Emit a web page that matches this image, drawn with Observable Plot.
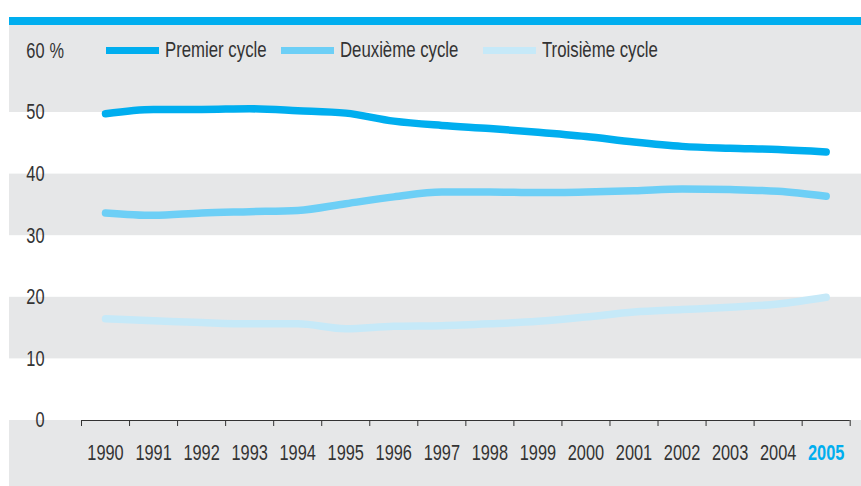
<!DOCTYPE html>
<html><head><meta charset="utf-8">
<script src="https://cdn.jsdelivr.net/npm/d3@7"></script>
<script src="https://cdn.jsdelivr.net/npm/@observablehq/plot@0.6"></script>
<style>
body{margin:0;background:#fff;font-family:"Liberation Sans",Arial,sans-serif;}
#wrap{position:relative;width:861px;height:486px;overflow:hidden;}
#bar{position:absolute;left:9px;top:17px;width:852px;height:8px;background:#00AEEF;}
#chart{position:absolute;left:9px;top:25px;}
.item{position:absolute;top:38px;height:24px;display:flex;align-items:center;gap:6px;font-size:21.5px;color:#333;white-space:nowrap;}
.sw{width:53px;height:7px;flex:none;}
.lt{display:inline-block;transform:scaleX(0.78);transform-origin:left center;}
</style></head>
<body>
<div id="wrap">
  <div id="bar"></div>
  <div id="chart"></div>
  <div id="legend"></div>
</div>
<script>
const years = [1990,1991,1992,1993,1994,1995,1996,1997,1998,1999,2000,2001,2002,2003,2004,2005];
const premier   = [49.8,50.5,50.5,50.6,50.3,49.9,48.6,47.9,47.4,46.8,46.1,45.2,44.5,44.2,44.0,43.6];
const deuxieme  = [33.7,33.3,33.7,33.9,34.1,35.2,36.3,37.1,37.1,37.0,37.1,37.3,37.6,37.5,37.2,36.4];
const troisieme = [16.5,16.2,15.9,15.7,15.7,14.9,15.3,15.4,15.7,16.1,16.8,17.6,18.0,18.4,18.9,20.0];
const seriesNames = ["Premier cycle","Deuxième cycle","Troisième cycle"];
const seriesColors = ["#00AEEF","#6DCFF6","#C6E9F8"];
const yTicks = [0,10,20,30,40,50,60];
const whiteBands = [{lo:0,hi:10},{lo:20,hi:30},{lo:40,hi:50}];
const legendLeft = [106,281,483];

const allSeries = [premier, deuxieme, troisieme];
const data = [];
seriesNames.forEach((s,k)=>years.forEach((y,i)=>data.push({series:s, year:y, value:allSeries[k][i]})));
const bandEdges = years.map(y=>y-0.5).concat([years[years.length-1]+0.5]);
const lastYear = years[years.length-1];
const FONT = '"Liberation Sans",Arial,sans-serif';
const TXT = "#333333";
const FS = 21.5;

const chart = Plot.plot({
  width: 852, height: 461,
  marginLeft: 0, marginRight: 0, marginTop: 0, marginBottom: 66,
  style: {background:"#E6E7E8", fontFamily: FONT, color: TXT},
  x: {domain:[bandEdges[0], bandEdges[bandEdges.length-1]], range:[72,840.7], label:null},
  y: {domain:[0,60], range:[395,25.4], label:null, axis:null},
  color: {domain: seriesNames, range: seriesColors},
  marks: [
    Plot.rectY(whiteBands, {y1:"lo", y2:"hi", fill:"white"}),
    Plot.ruleY([0], {x1: bandEdges[0], x2: bandEdges[bandEdges.length-1], stroke: TXT, strokeWidth: 1.2}),
    Plot.axisX({ticks: bandEdges, tickFormat: () => "", tickSize: 6, stroke: TXT, label: null}),
    Plot.text(years.filter(d=>d!==lastYear), {x: d=>d, y: 0, dy: 33, text: d=>String(d), fontSize: FS, fill: TXT}),
    Plot.text([lastYear], {x: d=>d, y: 0, dy: 33, text: d=>String(d), fontSize: FS, fill: "#00AEEF", fontWeight: "bold"}),
    Plot.text(yTicks, {y: d=>d, frameAnchor:"left", dx: 35, textAnchor:"end", text: d=>String(d), fontSize: FS, fill: TXT}),
    Plot.text([60], {y: d=>d, frameAnchor:"left", dx: 40, textAnchor:"start", text: ()=>"%", fontSize: FS, fill: TXT}),
    Plot.line(data, {x:"year", y:"value", stroke:"series", strokeWidth: 7.5, curve:"monotone-x",
      strokeLinecap:"round", strokeLinejoin:"round"})
  ]
});
document.getElementById("chart").appendChild(chart);
// narrow the glyphs (condensed look)
chart.querySelectorAll("text").forEach(el=>{
  if (!el.textContent) return;
  const L = el.getComputedTextLength();
  if (L > 0) { el.setAttribute("textLength", L*0.76); el.setAttribute("lengthAdjust","spacingAndGlyphs"); }
});

const legend = document.getElementById("legend");
seriesNames.forEach((s,i)=>{
  const it = document.createElement("div");
  it.className = "item";
  it.style.left = legendLeft[i] + "px";
  const sw = document.createElement("span");
  sw.className = "sw"; sw.style.background = seriesColors[i];
  const t = document.createElement("span");
  t.className = "lt";
  t.textContent = s;
  it.appendChild(sw); it.appendChild(t);
  legend.appendChild(it);
});
</script>
</body></html>
